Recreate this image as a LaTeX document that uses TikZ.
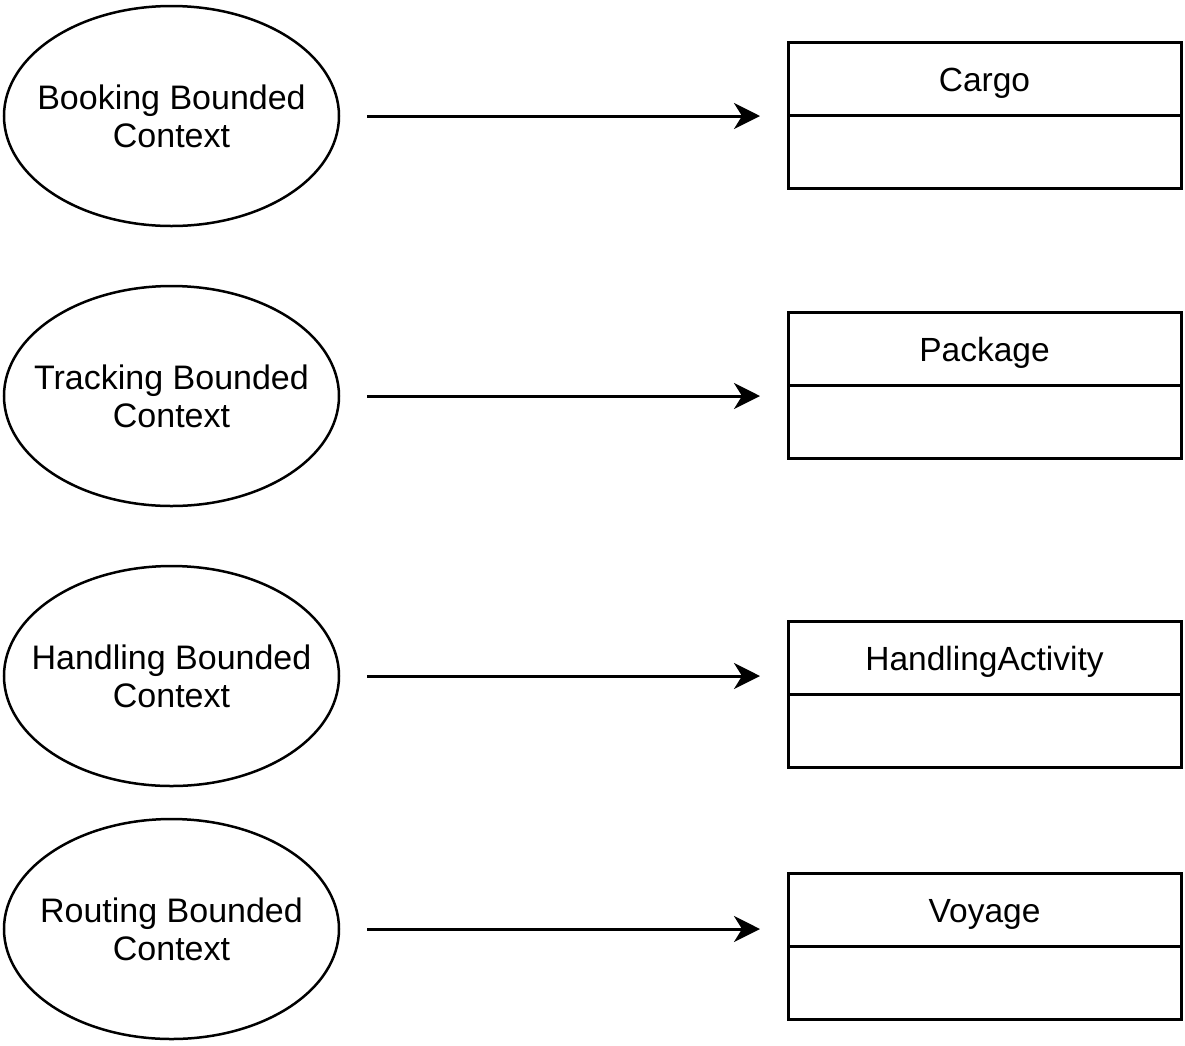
\documentclass[tikz,border=0pt]{standalone}
\usepackage{fontspec}
\setmainfont{Liberation Sans}
\usetikzlibrary{shapes.geometric,arrows.meta}
\begin{document}
\begin{tikzpicture}[x=1pt,y=-1pt,
  ctx/.style={draw,line width=2.5pt,ellipse,minimum width=335pt,minimum height=220pt,inner sep=0pt,outer sep=0pt},
  ctxtext/.style={align=center,inner sep=0pt,font=\fontsize{34}{38}\selectfont},
  cls/.style={draw,line width=3pt,rectangle,minimum width=393pt,minimum height=73pt,inner sep=0pt,outer sep=0pt,text height=25pt,text depth=0pt,font=\fontsize{33.5}{38}\selectfont},
  arr/.style={line width=3pt,-{Stealth[length=26pt,width=26pt,inset=8pt]},shorten <=28pt,shorten >=28pt}]
\useasboundingbox (0,0) rectangle (1185,1045);
\node[ctx] (e1) at (171.5,116) {};
\node[ctxtext] (t1) at (e1.center) {Booking Bounded\\Context};
\node[ctx] (e2) at (171.5,396) {};
\node[ctxtext] (t2) at (e2.center) {Tracking Bounded\\Context};
\node[ctx] (e3) at (171.5,676) {};
\node[ctxtext] (t3) at (e3.center) {Handling Bounded\\Context};
\node[ctx] (e4) at (171.5,929) {};
\node[ctxtext] (t4) at (e4.center) {Routing Bounded\\Context};
\node[cls] (b1) at (984.5,78.5) {Cargo};
\node[cls,anchor=north] (b1b) at (b1.south) {};
\node[cls] (b2) at (984.5,348.5) {Package};
\node[cls,anchor=north] (b2b) at (b2.south) {};
\node[cls] (b3) at (984.5,657.5) {HandlingActivity};
\node[cls,anchor=north] (b3b) at (b3.south) {};
\node[cls] (b4) at (984.5,909.5) {Voyage};
\node[cls,anchor=north] (b4b) at (b4.south) {};
\draw[arr] (e1.east) -- (e1.east -| b1.west);
\draw[arr] (e2.east) -- (e2.east -| b2.west);
\draw[arr] (e3.east) -- (e3.east -| b3.west);
\draw[arr] (e4.east) -- (e4.east -| b4.west);
\end{tikzpicture}
\end{document}
